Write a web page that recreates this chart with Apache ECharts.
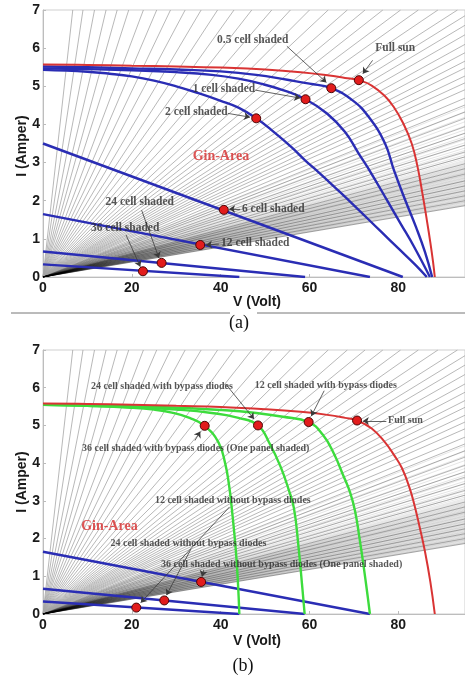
<!DOCTYPE html>
<html><head><meta charset="utf-8">
<script src="https://cdn.jsdelivr.net/npm/echarts@6/dist/echarts.min.js"></script>
<style>html,body{margin:0;padding:0;background:#fff}#c{width:465px;height:678px}</style>
</head><body><div id="c"></div>
<script>
// ---- background load lines (from origin) ----
const fanTopV = [6.7, 9.0, 11.6, 14.2, 16.7, 19.3, 22.6, 25.6, 28.7, 32.0, 35.6, 39.3, 43.0, 47.0, 51.5, 55.7, 60.0, 64.2, 68.5, 72.5, 76.5, 80.5, 84.5, 88.9, 93.3];
const fanEdgeI = [6.85, 6.6, 6.35, 6.1, 5.88, 5.66, 5.48, 5.27, 5.09, 4.91, 4.69, 4.51, 4.33, 4.16, 3.94, 3.77, 3.63, 3.46, 3.28, 3.15, 2.97, 2.84, 2.7, 2.52, 2.39, 2.26, 2.13, 2.0, 1.87];
const fanMidI = [3.15, 3.2, 3.26, 3.32, 3.38, 3.45, 3.52, 3.6, 3.68, 3.77, 3.86, 3.96, 4.07, 4.19, 4.32, 4.46];
const fanDenseI = [1.87,1.89,1.9,1.92,1.94,1.96,1.97,1.99,2.01,2.03,2.04,2.06,2.08,2.1,2.11,2.13,2.15,2.17,2.18,2.2,2.22,2.24,2.25,2.27,2.29,2.31,2.32,2.34,2.36,2.38,2.39,2.41,2.43,2.45,2.46,2.48,2.5,2.52,2.53,2.55,2.57,2.59,2.6,2.62,2.64,2.66,2.67,2.69,2.71,2.73,2.74,2.76,2.78,2.8,2.82,2.84,2.86,2.88,2.9,2.92,2.94,2.97,3.0,3.03,3.06,3.1];

// ---- panel (a) curves ----
const fullSunA = [[0,5.57],[10,5.56],[20,5.54],[30,5.52],[40,5.49],[50,5.44],[58,5.37],[64,5.29],[68,5.22],[71.1,5.16],[74,5.02],[77,4.74],[79,4.45],[81,4.05],[83,3.5],[84.3,2.9],[85.4,2.2],[86.4,1.5],[87.2,0.9],[87.8,0.4],[88.2,0]];
const shade05 = [[0,5.52],[10,5.5],[20,5.47],[30,5.44],[40,5.39],[48,5.3],[55,5.17],[60,5.07],[64.9,4.95],[69.7,4.63],[73.3,4.2],[77,3.5],[79,2.8],[81.6,2.0],[84,1.3],[86,0.65],[87.6,0]];
const shade1 = [[0,5.47],[10,5.45],[20,5.42],[30,5.37],[38,5.3],[44,5.2],[49,5.07],[54,4.9],[59.1,4.66],[64,4.28],[68,3.8],[71,3.25],[74,2.7],[77.5,2.0],[80.5,1.4],[83.5,0.8],[87.1,0]];
const shade2 = [[0,5.43],[10,5.38],[15,5.33],[20,5.26],[25,5.15],[30,5.0],[35,4.82],[40,4.62],[44,4.44],[48,4.16],[52,3.8],[56,3.4],[59,3.06],[62,2.75],[66,2.32],[70,1.88],[76,1.2],[80,0.75],[84,0.3],[86.4,0]];
const shade6 = [[0,3.5],[81,0]];
const shade12 = [[0,1.65],[73.6,0]];
const shade24 = [[0,0.67],[59,0]];
const shade36 = [[0,0.33],[44.2,0]];
const markersA = [[71.1,5.16],[64.9,4.95],[59.1,4.66],[48,4.16],[40.7,1.76],[35.4,0.84],[26.7,0.37],[22.5,0.15]];

// ---- panel (b) curves ----
const fullSunB = [[0,5.58],[10,5.57],[20,5.55],[30,5.52],[40,5.49],[50,5.43],[58,5.36],[64,5.28],[68,5.2],[70.7,5.13],[74,4.92],[77,4.55],[79,4.22],[80.8,3.87],[82.5,3.35],[83.6,2.9],[84.8,2.3],[86,1.65],[87.2,0.85],[88.2,0]];
const bypass12 = [[0,5.56],[10,5.54],[20,5.51],[30,5.47],[40,5.41],[48,5.33],[54,5.23],[59.8,5.09],[63,4.75],[65.5,4.25],[67.5,3.7],[69.2,3.2],[70.3,2.7],[71.2,2.05],[72.2,1.25],[73,0.55],[73.6,0]];
const bypass24 = [[0,5.55],[10,5.52],[20,5.48],[30,5.42],[38,5.33],[44,5.2],[48.4,5.0],[51.1,4.5],[53.5,3.9],[55.3,3.3],[56.5,2.8],[57.5,1.8],[58.3,0.8],[58.9,0]];
const bypass36 = [[0,5.55],[10,5.52],[20,5.47],[25,5.42],[29,5.34],[33,5.2],[36.4,4.99],[39.5,4.55],[41,4.0],[41.9,3.4],[42.5,2.8],[43.4,1.7],[43.9,0.8],[44.2,0]];
const noBypass12 = [[0,1.65],[73.6,0]];
const noBypass24 = [[0,0.67],[58.9,0]];
const noBypass36 = [[0,0.33],[44.2,0]];
const markersB = [[70.7,5.13],[59.8,5.09],[48.4,5.0],[36.4,4.99],[35.6,0.85],[27.3,0.36],[21,0.17]];

// ---- annotations: [text, V, I] (left-middle anchor) and arrows [from, to] ----
const labelsA = [['0.5 cell shaded',39.3,6.2],['Full sun',74.9,5.99],['1 cell shaded',33.8,4.92],['2 cell shaded',27.6,4.32],['6 cell shaded',44.9,1.78],['12 cell shaded',40.2,0.89],['24 cell shaded',14.2,1.94],['36 cell shaded',10.9,1.26]];
const arrowsA = [[[54.9,6.05],[63.8,5.1]],[[74.2,5.68],[72,5.33]],[[47.8,4.9],[57.9,4.69]],[[41.6,4.29],[46.6,4.19]],[[44.4,1.78],[41.9,1.78]],[[39.6,0.86],[36.7,0.84]],[[22.2,1.75],[26.1,0.5]],[[18.7,1.1],[21.9,0.27]]];
const labelsB = [['24 cell shaded with bypass diodes',10.9,6.02],['12 cell shaded with bypass diodes',47.8,6.05],['Full sun',77.8,5.12],['36 cell shaded with bypass diodes (One panel shaded)',8.9,4.38],['12 cell shaded without bypass diodes',25.3,3.0],['24 cell shaded without bypass diodes',15.3,1.86],['36 cell shaded without bypass diodes (One panel shaded)',26.7,1.3]];
const arrowsB = [[[41.1,6.1],[47.5,5.17]],[[63.3,5.92],[60.4,5.25]],[[77.3,5.12],[72.0,5.12]],[[34.2,4.6],[35.4,4.84]],[[42,2.84],[22,0.3]],[[33.3,1.72],[27.8,0.5]],[[36.2,1.17],[35.8,0.99]]];
const ginArea = [['Gin-Area',33.8,3.14],['Gin-Area',8.7,2.31]];

const chart = echarts.init(document.getElementById('c'), null, {renderer:'canvas'});

function fan(gi){
  const d=[];
  fanTopV.forEach(v=>d.push({coords:[[0,0],[v,7]]}));
  fanEdgeI.forEach(c=>d.push({coords:[[0,0],[95,c]]}));
  return {type:'lines',coordinateSystem:'cartesian2d',xAxisIndex:gi,yAxisIndex:gi,silent:true,z:1,lineStyle:{color:'#a6a6a6',width:0.8,opacity:1},data:d};
}
function fanShade(gi,list,op){
  return {type:'lines',coordinateSystem:'cartesian2d',xAxisIndex:gi,yAxisIndex:gi,silent:true,z:1,lineStyle:{color:'#000000',width:1,opacity:op},data:list.map(c=>({coords:[[0,0],[95,c]]}))};
}
function curve(gi,data,color,w){
  return {type:'line',xAxisIndex:gi,yAxisIndex:gi,data:data,showSymbol:false,smooth:0.45,silent:true,z:3,lineStyle:{color:color,width:w}};
}
function markers(gi,data){
  return {type:'scatter',xAxisIndex:gi,yAxisIndex:gi,data:data,symbolSize:9,z:6,silent:true,itemStyle:{color:'#e21c1c',borderColor:'#4a0606',borderWidth:1,opacity:1}};
}
function arrows(gi,data){
  return {type:'lines',coordinateSystem:'cartesian2d',xAxisIndex:gi,yAxisIndex:gi,silent:true,z:5,symbol:['none','arrow'],symbolSize:6,lineStyle:{color:'#3a3a3a',width:0.8,opacity:1},data:data.map(p=>({coords:p}))};
}
function texts(gi,data,size,color){
  return {type:'scatter',xAxisIndex:gi,yAxisIndex:gi,silent:true,z:7,symbolSize:1,itemStyle:{color:'rgba(0,0,0,0)'},
    data:data.map(t=>[t[1],t[2],t[0]]),
    label:{show:true,position:[0,0],align:'left',verticalAlign:'middle',formatter:p=>p.data[2],
      fontFamily:'Liberation Serif',fontWeight:'bold',fontSize:size,color:color}};
}

const axisLabelStyle = {color:'#1a1a1a',fontFamily:'Liberation Sans',fontWeight:'bold',fontSize:14};
const xAxes=[0,1].map(i=>({gridIndex:i,type:'value',min:0,max:95,interval:20,splitLine:{show:false},
  axisLine:{lineStyle:{color:'#bdbdbd',width:1}},axisTick:{inside:true,length:3,lineStyle:{color:'#bbb'}},
  axisLabel:Object.assign({showMaxLabel:false,margin:4},axisLabelStyle)}));
const yAxes=[0,1].map(i=>({gridIndex:i,type:'value',min:0,max:7,interval:1,splitLine:{show:false},
  axisLine:{show:true,lineStyle:{color:'#bdbdbd',width:1}},axisTick:{inside:true,length:3,lineStyle:{color:'#bbb'}},
  axisLabel:Object.assign({margin:3},axisLabelStyle)}));

const blue='#2a2db4', red='#d93434', green='#3ddc3d';
const series=[
  fan(0),fanShade(0,fanDenseI,0.09),fanShade(0,fanMidI,0.1),
  fan(1),fanShade(1,fanDenseI,0.09),fanShade(1,fanMidI,0.1),
  curve(0,shade36,blue,2.4),curve(0,shade24,blue,2.4),curve(0,shade12,blue,2.4),curve(0,shade6,blue,2.4),
  curve(0,shade2,blue,2.4),curve(0,shade1,blue,2.4),curve(0,shade05,blue,2.4),curve(0,fullSunA,red,2),
  curve(1,noBypass36,blue,2.4),curve(1,noBypass24,blue,2.4),curve(1,noBypass12,blue,2.4),
  curve(1,bypass36,green,2.4),curve(1,bypass24,green,2.4),curve(1,bypass12,green,2.4),curve(1,fullSunB,red,2),
  arrows(0,arrowsA),arrows(1,arrowsB),
  markers(0,markersA),markers(1,markersB),
  texts(0,labelsA,11.5,'#2c2c2c'),texts(1,labelsB,10,'#2c2c2c'),
  texts(0,[ginArea[0]],14,'#d42a2a'),texts(1,[ginArea[1]],14,'#d42a2a')
];

const nameFont='bold 14px "Liberation Sans"';
chart.setOption({
  animation:false,backgroundColor:'#ffffff',
  grid:[{left:43,top:10,width:427.5,height:267,show:true,borderColor:'#cfcfcf',borderWidth:1},
        {left:43,top:350,width:427.5,height:264,show:true,borderColor:'#cfcfcf',borderWidth:1}],
  xAxis:xAxes,yAxis:yAxes,series:series,
  graphic:[
    {type:'text',x:257,y:302,style:{text:'V (Volt)',font:nameFont,fill:'#1a1a1a',textAlign:'center',textVerticalAlign:'middle'}},
    {type:'text',x:22,y:146,rotation:Math.PI/2,style:{text:'I (Amper)',font:nameFont,fill:'#1a1a1a',textAlign:'center',textVerticalAlign:'middle'}},
    {type:'text',x:257,y:641,style:{text:'V (Volt)',font:nameFont,fill:'#1a1a1a',textAlign:'center',textVerticalAlign:'middle'}},
    {type:'text',x:22,y:482,rotation:Math.PI/2,style:{text:'I (Amper)',font:nameFont,fill:'#1a1a1a',textAlign:'center',textVerticalAlign:'middle'}},
    {type:'line',shape:{x1:11,y1:313,x2:230,y2:313},style:{stroke:'#777',lineWidth:1}},
    {type:'line',shape:{x1:257,y1:313,x2:465,y2:313},style:{stroke:'#777',lineWidth:1}},
    {type:'text',x:239,y:323,style:{text:'(a)',font:'18px "Liberation Serif"',fill:'#111',textAlign:'center',textVerticalAlign:'middle'}},
    {type:'text',x:243,y:666,style:{text:'(b)',font:'18px "Liberation Serif"',fill:'#111',textAlign:'center',textVerticalAlign:'middle'}}
  ]
});
</script></body></html>
